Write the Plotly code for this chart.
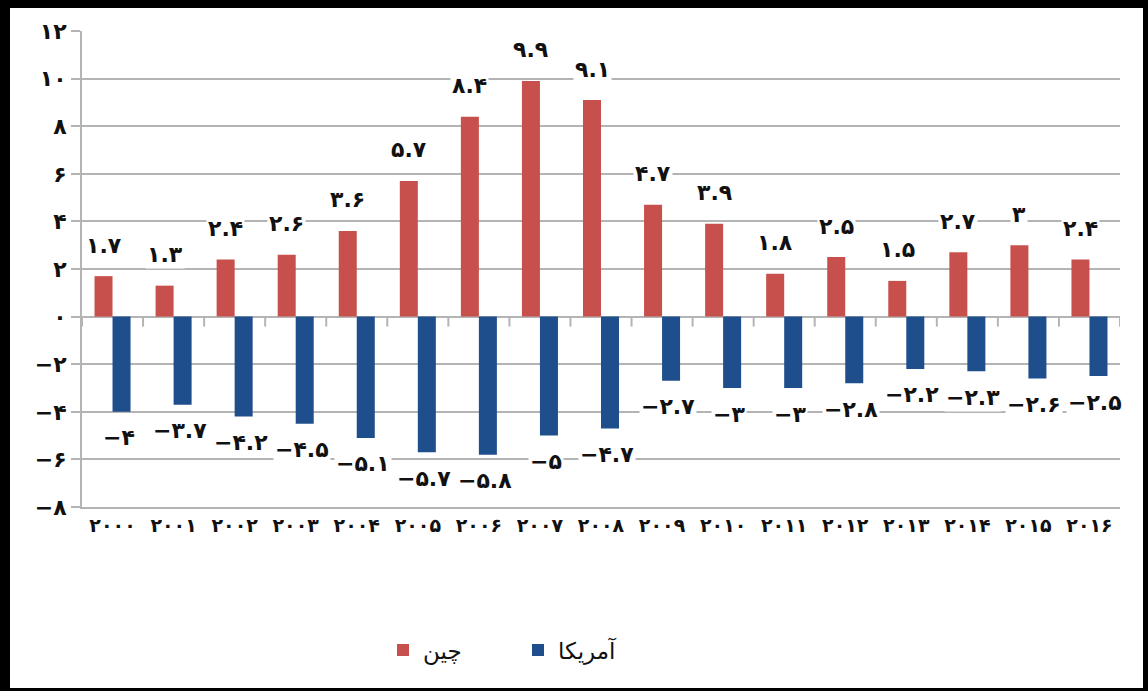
import plotly.graph_objects as go

# ---- data ----
years = list(range(2000, 2017))
china = [1.7, 1.3, 2.4, 2.6, 3.6, 5.7, 8.4, 9.9, 9.1, 4.7, 3.9, 1.8, 2.5, 1.5, 2.7, 3, 2.4]
usa = [-4, -3.7, -4.2, -4.5, -5.1, -5.7, -5.8, -5, -4.7, -2.7, -3, -3, -2.8, -2.2, -2.3, -2.6, -2.5]
y_ticks = list(range(-8, 13, 2))
series_names = ["چین", "آمریکا"]

FA_DIGITS = str.maketrans("0123456789", "۰۱۲۳۴۵۶۷۸۹")


def fa(v):
    """Format a number with Persian digits and a leading minus sign."""
    s = f"{abs(v):g}".translate(FA_DIGITS)
    return ("−" + s) if v < 0 else s


# ---- geometry (pixels) ----
W, H = 1148, 691
L, R, T, B = 82, 1120, 31, 507
FONT = "DejaVu Sans"
RED = "#C8504C"
BLUE = "#1F4E8D"
GRID = "#b4b4b4"
INK = "#111111"

x = list(range(len(years)))

fig = go.Figure()
fig.add_trace(go.Bar(x=x, y=china, name=series_names[0], marker=dict(color=RED, line=dict(width=0))))
fig.add_trace(go.Bar(x=x, y=usa, name=series_names[1], marker=dict(color=BLUE, line=dict(width=0))))

annotations = []
for i, (c, u) in enumerate(zip(china, usa)):
    annotations.append(dict(x=i, y=c, xref="x", yref="y", text="<b>" + fa(c) + "</b>", showarrow=False,
                            xshift=-9, yshift=31, bgcolor="white",
                            font=dict(family=FONT, size=22, color=INK)))
    annotations.append(dict(x=i, y=u, xref="x", yref="y", text="<b>" + fa(u) + "</b>", showarrow=False,
                            xshift=6, yshift=-26, bgcolor="white",
                            font=dict(family=FONT, size=22, color=INK)))

shapes = []
# small category ticks hanging from the zero line
for i in range(len(years) + 1):
    shapes.append(dict(type="line", xref="x", yref="y", x0=i - 0.5, x1=i - 0.5,
                       ysizemode="pixel", yanchor=0, y0=0, y1=-10,
                       line=dict(color=GRID, width=2)))


def px_x(p):
    return (p - L) / (R - L)


def px_y(p):
    return (B - p) / (B - T)


# black frame around the whole picture
frame = [(0, 0, W, 8), (0, 0, 10, H), (W - 5, 0, W, H), (0, H - 3, W, H)]
for x0, y0, x1, y1 in frame:
    shapes.append(dict(type="rect", xref="paper", yref="paper",
                       x0=px_x(x0), x1=px_x(x1), y0=px_y(y1), y1=px_y(y0),
                       fillcolor="black", line=dict(width=0), layer="above"))

fig.update_layout(
    width=W, height=H,
    margin=dict(l=L, r=W - R, t=T, b=H - B),
    paper_bgcolor="white", plot_bgcolor="white",
    barmode="group", bargap=0.41, bargroupgap=0,
    showlegend=True,
    legend=dict(orientation="h", x=px_x(383), xanchor="left", y=px_y(650), yanchor="middle",
                font=dict(family=FONT, size=23, color=INK), traceorder="normal",
                itemwidth=30, entrywidth=90, entrywidthmode="pixels"),
    annotations=annotations,
    shapes=shapes,
    xaxis=dict(range=[-0.5, len(years) - 0.5], tickvals=x,
               ticktext=["<b>" + str(y).translate(FA_DIGITS) + "</b>" for y in years],
               showgrid=False, zeroline=False, showline=True, linecolor=GRID, linewidth=2,
               ticks="", tickfont=dict(family=FONT, size=19, color=INK)),
    yaxis=dict(range=[-8, 12], tickvals=y_ticks, ticktext=["<b>" + fa(v) + "</b>" for v in y_ticks],
               showgrid=True, gridcolor=GRID, gridwidth=2,
               zeroline=True, zerolinecolor=GRID, zerolinewidth=2,
               showline=True, linecolor=GRID, linewidth=2,
               ticks="outside", ticklen=9, tickcolor=GRID, tickwidth=2,
               tickfont=dict(family=FONT, size=22, color=INK)),
)

fig.write_html("out.html")
